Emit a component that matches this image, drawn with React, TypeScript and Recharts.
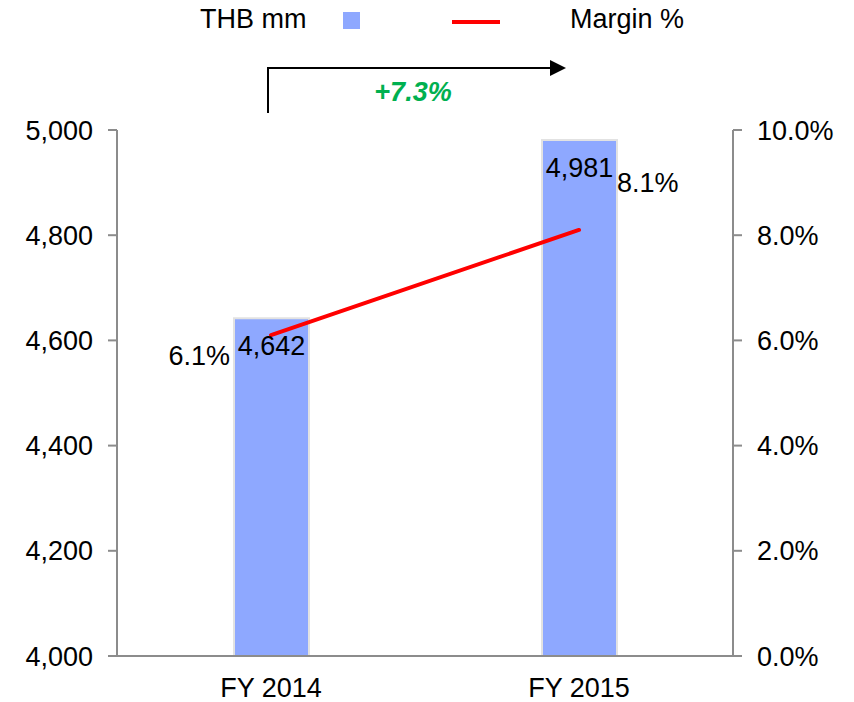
import React from 'react';
import { ComposedChart, Bar, Line, XAxis, YAxis, Legend, LabelList } from 'recharts';

const categories = ['FY 2014', 'FY 2015'];
const revenue = [4642, 4981];
const marginPct = [6.1, 8.1];
const leftTicks = [4000, 4200, 4400, 4600, 4800, 5000];
const rightTicks = [0, 2, 4, 6, 8, 10];
const growthLabel = '+7.3%';

const data = categories.map((c, i) => ({ name: c, revenue: revenue[i], margin: marginPct[i] }));

const FONT = '"Liberation Sans", Arial, sans-serif';
const FS = 27;
const barColor = '#8EA8FF';
const lineColor = '#FF0000';
const axisColor = '#8C8C8C';

const BarValueLabel = (props: any) => {
  const { x, y, width, value } = props;
  return (
    <text x={x + width / 2} y={y + 37} textAnchor="middle" fontSize={FS} fontFamily={FONT} fill="#000">
      {Number(value).toLocaleString('en-US')}
    </text>
  );
};

const MarginLabel = (props: any) => {
  const { x, y, value, index } = props;
  const first = index === 0;
  return (
    <text
      x={first ? x - 41 : x + 38}
      y={first ? y + 30 : y - 38}
      textAnchor={first ? 'end' : 'start'}
      fontSize={FS}
      fontFamily={FONT}
      fill="#000"
    >
      {Number(value).toFixed(1)}%
    </text>
  );
};

const LegendBox = () => (
  <svg width={854} height={40} style={{ display: 'block' }}>
    <text x={200} y={28} fontSize={FS} fontFamily={FONT} fill="#000">THB mm</text>
    <rect x={343} y={12} width={17} height={17} fill={barColor} />
    <line x1={452} x2={500} y1={22} y2={22} stroke={lineColor} strokeWidth={4} />
    <text x={570} y={28} fontSize={FS} fontFamily={FONT} fill="#000">Margin %</text>
  </svg>
);

const App = () => {
  return (
    <div style={{ position: 'absolute', left: 0, top: 0, width: 854, height: 702, background: '#fff' }}>
      <ComposedChart width={854} height={702} data={data} margin={{ top: 130, right: 0, bottom: 0, left: 0 }}>
        <Legend
          layout="horizontal"
          verticalAlign="middle"
          align="center"
          content={() => <LegendBox />}
          wrapperStyle={{ top: 0, left: 0, width: 854, height: 40 }}
        />
        <XAxis
          dataKey="name"
          height={46}
          stroke={axisColor}
          strokeWidth={2}
          tickLine={false}
          tickSize={0}
          tickMargin={22}
          tick={{ fill: '#000', fontSize: FS, fontFamily: FONT }}
        />
        <YAxis
          yAxisId="left"
          width={117}
          domain={[4000, 5000]}
          ticks={leftTicks}
          tickFormatter={(v: number) => v.toLocaleString('en-US')}
          stroke={axisColor}
          strokeWidth={2}
          tickSize={9}
          tickMargin={15}
          tick={{ fill: '#000', fontSize: FS, fontFamily: FONT }}
        />
        <YAxis
          yAxisId="right"
          orientation="right"
          width={121}
          domain={[0, 10]}
          ticks={rightTicks}
          tickFormatter={(v: number) => v.toFixed(1) + '%'}
          stroke={axisColor}
          strokeWidth={2}
          tickSize={9}
          tickMargin={15}
          tick={{ fill: '#000', fontSize: FS, fontFamily: FONT }}
        />
        <Bar yAxisId="left" dataKey="revenue" fill={barColor} stroke="#E2E2E2" strokeWidth={2} barSize={75} isAnimationActive={false}>
          <LabelList dataKey="revenue" content={BarValueLabel} />
        </Bar>
        <Line
          yAxisId="right"
          dataKey="margin"
          stroke={lineColor}
          strokeWidth={4}
          strokeLinecap="round"
          dot={false}
          activeDot={false}
          isAnimationActive={false}
        >
          <LabelList dataKey="margin" content={MarginLabel} />
        </Line>
      </ComposedChart>
      <svg width={854} height={702} style={{ position: 'absolute', left: 0, top: 0, pointerEvents: 'none' }}>
        <path d="M268 113 V68 H552" fill="none" stroke="#000" strokeWidth={2} />
        <polygon points="550,60 566,68 550,76" fill="#000" />
        <text x={413} y={101} textAnchor="middle" fontSize={FS} fontWeight="bold" fontStyle="italic" fontFamily={FONT} fill="#00B050">
          {growthLabel}
        </text>
      </svg>
    </div>
  );
};

export default App;
